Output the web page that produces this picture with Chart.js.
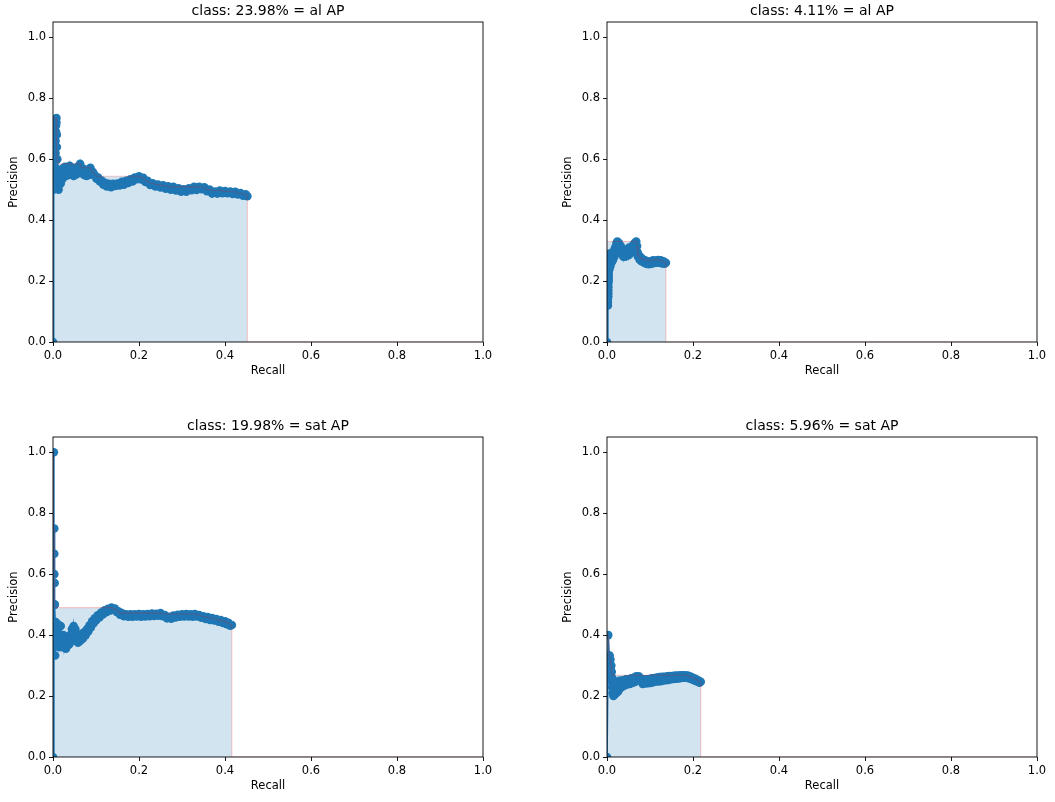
<!DOCTYPE html>
<html>
<head>
<meta charset="utf-8">
<script src="https://cdn.jsdelivr.net/npm/chart.js@4.4.1/dist/chart.umd.min.js"></script>
<style>
  html, body { margin: 0; padding: 0; background: #fff; }
  body { width: 1055px; height: 802px; position: relative; overflow: hidden; }
  .panel { position: absolute; width: 501px; height: 387px; }
  .panel canvas { display: block; }
</style>
</head>
<body>
<div class="panel" style="left:0px;top:0px"><canvas id="pr0" width="501" height="387"></canvas></div>
<div class="panel" style="left:554px;top:0px"><canvas id="pr1" width="501" height="387"></canvas></div>
<div class="panel" style="left:0px;top:415px"><canvas id="pr2" width="501" height="387"></canvas></div>
<div class="panel" style="left:554px;top:415px"><canvas id="pr3" width="501" height="387"></canvas></div>
<script>
// Axis tick positions (shared by all four panels)
const recallTicks = [0.0, 0.2, 0.4, 0.6, 0.8, 1.0];
const precisionTicks = [0.0, 0.2, 0.4, 0.6, 0.8, 1.0];

const panelTitles = [
  'class: 23.98% = al AP',
  'class: 4.11% = al AP',
  'class: 19.98% = sat AP',
  'class: 5.96% = sat AP'
];

// Precision / recall points, [recall, precision]
const prAlFirst = [
  [0,0],[0.001,0.50],[0.002,0.55],[0.003,0.60],[0.004,0.53],[0.005,0.57],[0.006,0.62],[0.006,0.66],
  [0.007,0.69],[0.007,0.71],[0.008,0.735],[0.008,0.72],[0.009,0.68],[0.009,0.64],[0.010,0.60],
  [0.011,0.55],[0.012,0.51],[0.013,0.50],[0.014,0.53],[0.016,0.565],[0.018,0.52],[0.020,0.56],
  [0.022,0.535],[0.024,0.57],[0.026,0.545],[0.028,0.575],[0.030,0.545],[0.033,0.57],[0.036,0.548],
  [0.039,0.578],[0.042,0.55],[0.045,0.572],[0.048,0.545],[0.051,0.568],[0.054,0.55],[0.057,0.575],
  [0.060,0.555],[0.063,0.585],[0.066,0.56],[0.069,0.57],[0.072,0.548],[0.075,0.565],[0.078,0.545],
  [0.081,0.56],[0.084,0.548],[0.087,0.572],[0.090,0.55],[0.093,0.558],[0.097,0.548],[0.101,0.536],
  [0.105,0.54],[0.109,0.527],[0.113,0.53],[0.117,0.516],[0.121,0.522],[0.125,0.51],[0.130,0.519],
  [0.135,0.508],[0.140,0.519],[0.145,0.512],[0.150,0.52],[0.155,0.514],[0.160,0.526],[0.165,0.516],
  [0.170,0.529],[0.175,0.522],[0.180,0.534],[0.185,0.527],[0.190,0.54],[0.195,0.534],[0.200,0.544],
  [0.205,0.533],[0.210,0.539],[0.215,0.525],[0.220,0.529],[0.226,0.515],[0.232,0.521],[0.238,0.51],
  [0.244,0.517],[0.250,0.507],[0.256,0.514],[0.262,0.503],[0.268,0.511],[0.274,0.50],[0.280,0.509],
  [0.286,0.497],[0.292,0.504],[0.298,0.493],[0.304,0.501],[0.310,0.493],[0.316,0.504],[0.322,0.498],
  [0.328,0.509],[0.334,0.499],[0.340,0.509],[0.346,0.501],[0.352,0.508],[0.358,0.495],[0.364,0.50],
  [0.370,0.487],[0.376,0.494],[0.382,0.487],[0.388,0.497],[0.394,0.488],[0.400,0.495],[0.406,0.488],
  [0.412,0.494],[0.418,0.486],[0.424,0.493],[0.430,0.484],[0.436,0.489],[0.442,0.48],[0.448,0.485],
  [0.452,0.478]
];

const prAlSecond = [
  [0,0],[0.002,0.12],[0.002,0.13],[0.002,0.14],[0.003,0.15],[0.003,0.16],[0.003,0.17],[0.003,0.18],
  [0.003,0.19],[0.004,0.20],[0.004,0.21],[0.004,0.22],[0.004,0.23],[0.004,0.24],[0.005,0.25],
  [0.005,0.26],[0.005,0.27],[0.005,0.28],[0.005,0.29],[0.006,0.26],[0.006,0.24],[0.007,0.27],
  [0.008,0.25],[0.009,0.28],[0.010,0.26],[0.011,0.29],[0.012,0.265],[0.013,0.29],[0.014,0.27],
  [0.016,0.30],[0.017,0.28],[0.019,0.31],[0.020,0.29],[0.022,0.325],[0.024,0.33],[0.026,0.31],
  [0.028,0.325],[0.030,0.30],[0.032,0.315],[0.034,0.29],[0.036,0.305],[0.038,0.28],[0.040,0.30],
  [0.042,0.28],[0.044,0.30],[0.046,0.285],[0.048,0.305],[0.050,0.285],[0.052,0.31],[0.054,0.29],
  [0.056,0.31],[0.058,0.295],[0.060,0.315],[0.062,0.30],[0.064,0.325],[0.066,0.31],[0.068,0.33],
  [0.070,0.315],[0.071,0.295],[0.072,0.28],[0.074,0.285],[0.076,0.27],[0.078,0.278],[0.080,0.265],
  [0.083,0.272],[0.086,0.26],[0.089,0.268],[0.092,0.256],[0.095,0.263],[0.098,0.255],[0.101,0.265],
  [0.104,0.257],[0.107,0.268],[0.110,0.259],[0.113,0.267],[0.116,0.26],[0.119,0.269],[0.122,0.26],
  [0.125,0.268],[0.128,0.258],[0.131,0.265],[0.134,0.257],[0.137,0.26]
];

const prSatFirst = [
  [0,0],[0.002,1.0],[0.002,0.5],[0.003,0.667],[0.003,0.75],[0.003,0.6],[0.004,0.5],[0.004,0.571],
  [0.004,0.5],[0.005,0.444],[0.005,0.4],[0.005,0.333],[0.006,0.38],[0.007,0.43],[0.008,0.44],
  [0.009,0.39],[0.010,0.365],[0.011,0.42],[0.012,0.435],[0.013,0.38],[0.014,0.36],[0.016,0.40],
  [0.018,0.43],[0.020,0.39],[0.022,0.36],[0.024,0.40],[0.026,0.36],[0.028,0.38],[0.030,0.355],
  [0.032,0.385],[0.034,0.365],[0.036,0.395],[0.038,0.37],[0.040,0.40],[0.042,0.38],[0.044,0.42],
  [0.046,0.40],[0.048,0.43],[0.050,0.405],[0.052,0.42],[0.054,0.385],[0.056,0.40],[0.058,0.375],
  [0.060,0.395],[0.062,0.38],[0.064,0.40],[0.066,0.385],[0.068,0.405],[0.070,0.39],[0.073,0.41],
  [0.076,0.40],[0.079,0.42],[0.082,0.412],[0.085,0.432],[0.088,0.425],[0.091,0.445],[0.094,0.438],
  [0.097,0.455],[0.100,0.448],[0.104,0.465],[0.108,0.458],[0.112,0.474],[0.116,0.468],[0.120,0.481],
  [0.124,0.475],[0.128,0.486],[0.132,0.48],[0.136,0.49],[0.140,0.484],[0.144,0.487],[0.148,0.476],
  [0.152,0.478],[0.156,0.467],[0.160,0.472],[0.165,0.462],[0.170,0.468],[0.175,0.46],[0.180,0.468],
  [0.185,0.46],[0.190,0.468],[0.195,0.461],[0.200,0.469],[0.205,0.46],[0.210,0.468],[0.215,0.461],
  [0.220,0.469],[0.225,0.462],[0.230,0.471],[0.235,0.463],[0.240,0.47],[0.245,0.464],[0.250,0.472],
  [0.255,0.462],[0.260,0.466],[0.265,0.455],[0.270,0.46],[0.275,0.454],[0.280,0.464],[0.285,0.458],
  [0.290,0.467],[0.295,0.46],[0.300,0.468],[0.305,0.461],[0.310,0.469],[0.315,0.461],[0.320,0.468],
  [0.325,0.46],[0.330,0.469],[0.335,0.461],[0.340,0.466],[0.345,0.457],[0.350,0.462],[0.355,0.453],
  [0.360,0.459],[0.365,0.45],[0.370,0.456],[0.375,0.448],[0.380,0.453],[0.385,0.444],[0.390,0.449],
  [0.395,0.44],[0.400,0.445],[0.404,0.436],[0.408,0.44],[0.412,0.431],[0.416,0.433]
];

const prSatSecond = [
  [0,0],[0.003,0.4],[0.005,0.333],[0.006,0.333],[0.007,0.30],[0.008,0.32],[0.008,0.29],[0.009,0.27],
  [0.010,0.30],[0.010,0.25],[0.011,0.28],[0.012,0.23],[0.012,0.26],[0.013,0.21],[0.014,0.245],
  [0.015,0.20],[0.016,0.235],[0.018,0.205],[0.020,0.24],[0.022,0.21],[0.024,0.245],[0.026,0.215],
  [0.028,0.25],[0.030,0.225],[0.032,0.25],[0.035,0.23],[0.038,0.252],[0.041,0.235],[0.044,0.255],
  [0.047,0.238],[0.050,0.255],[0.053,0.24],[0.056,0.258],[0.059,0.243],[0.062,0.26],[0.065,0.246],
  [0.068,0.265],[0.071,0.253],[0.074,0.265],[0.077,0.25],[0.080,0.257],[0.083,0.24],[0.086,0.255],
  [0.089,0.241],[0.092,0.255],[0.095,0.242],[0.098,0.256],[0.101,0.243],[0.104,0.258],[0.107,0.245],
  [0.110,0.259],[0.113,0.248],[0.116,0.261],[0.119,0.248],[0.122,0.262],[0.125,0.249],[0.128,0.263],
  [0.131,0.251],[0.134,0.263],[0.137,0.252],[0.140,0.265],[0.143,0.253],[0.146,0.266],[0.149,0.255],
  [0.152,0.266],[0.155,0.256],[0.158,0.267],[0.161,0.257],[0.164,0.267],[0.167,0.258],[0.170,0.268],
  [0.173,0.259],[0.176,0.268],[0.179,0.26],[0.182,0.268],[0.185,0.26],[0.188,0.267],[0.191,0.258],
  [0.194,0.264],[0.197,0.255],[0.200,0.26],[0.203,0.251],[0.206,0.257],[0.209,0.248],[0.212,0.252],
  [0.215,0.244],[0.218,0.247]
];

const panelSeries = [prAlFirst, prAlSecond, prSatFirst, prSatSecond];

// Interpolated (monotone) precision envelope used for the shaded AP area
function apArea(pr) {
  const mrec = [0, ...pr.map(p => p[0]), 1];
  const mpre = [0, ...pr.map(p => p[1]), 0];
  for (let i = mpre.length - 2; i >= 0; i--) mpre[i] = Math.max(mpre[i], mpre[i + 1]);
  const xs = mrec.slice(0, -1).concat([mrec[mrec.length - 2], mrec[mrec.length - 1]]);
  const ys = mpre.slice(0, -1).concat([0, mpre[mpre.length - 1]]);
  return xs.map((x, i) => ({ x: x, y: ys[i] }));
}

Chart.defaults.font.family = "'DejaVu Sans', 'Liberation Sans', sans-serif";
Chart.defaults.font.size = 11.5;
Chart.defaults.color = '#000';

const BLUE = '#1f77b4';

// Axes frame (all four spines) and panel title
const framePlugin = {
  id: 'frame',
  afterDatasetsDraw(chart) {
    const { ctx, chartArea: a } = chart;
    ctx.save();
    ctx.strokeStyle = '#000';
    ctx.lineWidth = 0.9;
    ctx.strokeRect(a.left, a.top, a.right - a.left, a.bottom - a.top);
    ctx.restore();
  },
  afterDraw(chart) {
    const { ctx, chartArea: a } = chart;
    ctx.save();
    ctx.fillStyle = '#000';
    ctx.font = "14px 'DejaVu Sans', sans-serif";
    ctx.textAlign = 'center';
    ctx.textBaseline = 'alphabetic';
    ctx.fillText(chart.options.plugins.frame.title, (a.left + a.right) / 2, 15);
    ctx.restore();
  }
};

function makeTickAxis(tickValues, min, max, extra) {
  return Object.assign({
    type: 'linear',
    min: min,
    max: max,
    afterBuildTicks: s => { s.ticks = tickValues.map(v => ({ value: v })); },
    ticks: { autoSkip: false, maxRotation: 0, callback: v => Number(v).toFixed(1) },
    grid: { display: true, drawOnChartArea: false, drawTicks: true, tickLength: 4, color: '#000', lineWidth: 0.9 },
    border: { display: false }
  }, extra);
}

panelSeries.forEach((series, idx) => {
  const curve = series.map(p => ({ x: p[0], y: p[1] }));
  new Chart(document.getElementById('pr' + idx), {
    type: 'line',
    data: {
      datasets: [
        {
          data: curve,
          borderColor: BLUE,
          backgroundColor: BLUE,
          borderWidth: 1.67,
          pointRadius: 4.3,
          pointBorderWidth: 0,
          pointBackgroundColor: BLUE,
          fill: false,
          tension: 0,
          clip: 0,
          order: 1
        },
        {
          data: apArea(series),
          borderColor: 'rgba(255,0,0,0.2)',
          borderWidth: 1.1,
          backgroundColor: 'rgba(31,119,180,0.2)',
          fill: 'origin',
          pointRadius: 0,
          tension: 0,
          clip: 0,
          order: 0
        }
      ]
    },
    options: {
      responsive: false,
      animation: false,
      events: [],
      layout: { padding: { left: 0, right: 18, top: 22, bottom: 0 } },
      plugins: {
        legend: { display: false },
        tooltip: { enabled: false },
        title: { display: false },
        frame: { title: panelTitles[idx] }
      },
      scales: {
        x: makeTickAxis(recallTicks, 0, 1.0, {
          position: 'bottom',
          afterFit: s => { s.height = 45; },
          title: { display: true, text: 'Recall', padding: { top: 0, bottom: 9 } }
        }),
        y: makeTickAxis(precisionTicks, 0, 1.05, {
          position: 'left',
          afterFit: s => { s.width = 53; },
          title: { display: true, text: 'Precision', padding: { top: 7.5, bottom: 0 } }
        })
      }
    },
    plugins: [framePlugin]
  });
});
</script>
</body>
</html>
